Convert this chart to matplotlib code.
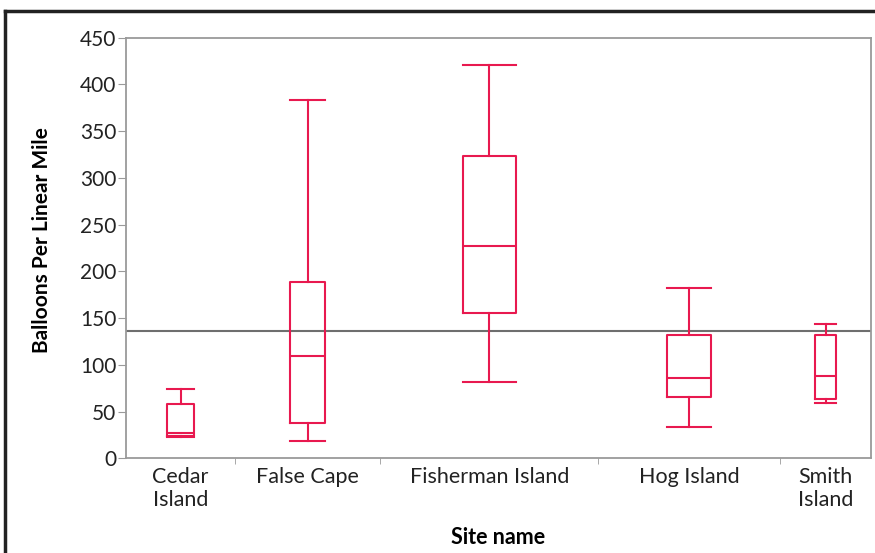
import matplotlib
matplotlib.use("Agg")
import matplotlib.pyplot as plt
from matplotlib.lines import Line2D
import numpy as np

plt.rcParams['font.family'] = ['Lato', 'DejaVu Sans']

# Sites and their box-plot summaries (balloons per linear mile)
sites = ["Cedar\nIsland", "False Cape", "Fisherman Island", "Hog Island", "Smith\nIsland"]
n_obs = [6, 8, 12, 10, 5]              # sample counts; set category widths
whisker_low = [23, 18.5, 82, 34, 59]
q1 = [24, 37.5, 155, 66, 63.5]
median = [27, 109.5, 227, 86, 88]
q3 = [58, 189, 323, 132, 132]
whisker_high = [74, 383, 421, 182, 144]
grand_mean = 136

box_color = '#e8194f'
axis_gray = '#9a9a9a'
text_color = '#222222'

fig = plt.figure(figsize=(8.75, 5.53), dpi=100)
ax = fig.add_axes([0.144, 0.1712, 0.8514, 0.7606])

edges = np.concatenate([[0], np.cumsum(n_obs)])
centers = (edges[:-1] + edges[1:]) / 2
widths = [0.24 * n for n in n_obs]

stats = []
for i in range(len(sites)):
    stats.append(dict(whislo=whisker_low[i], q1=q1[i], med=median[i],
                      q3=q3[i], whishi=whisker_high[i], fliers=[]))

lp = dict(color=box_color, linewidth=1.5)
ax.bxp(stats, positions=centers, widths=widths, capwidths=widths,
       showfliers=False, boxprops=lp, whiskerprops=lp, capprops=lp,
       medianprops=lp, manage_ticks=False)

ax.axhline(grand_mean, color='#6e6e6e', linewidth=1.5, zorder=1)

ax.set_xlim(edges[0], edges[-1])
ax.set_ylim(0, 450)
ax.set_yticks(np.arange(0, 451, 50))
ax.set_xticks(centers)
ax.set_xticklabels(sites, fontsize=15.5, color=text_color, linespacing=1.2)
ax.set_xticks(edges[1:-1], minor=True)
ax.tick_params(axis='x', which='major', length=0, pad=6)
ax.tick_params(axis='x', which='minor', length=4, color=axis_gray, direction='out')
ax.tick_params(axis='y', length=6, color=axis_gray, labelsize=15,
               labelcolor=text_color, pad=1)

for s in ax.spines.values():
    s.set_color(axis_gray)
    s.set_linewidth(1.3)

ax.set_ylabel("Balloons Per Linear Mile", fontsize=15, fontweight='bold', va='center')
ax.yaxis.set_label_coords((42 - 126) / 745, 0.518)
ax.set_xlabel("Site name", fontsize=15.5, fontweight='bold', va='center')
ax.xaxis.set_label_coords(0.5, -(537 - 458) / 420.6)

# outer frame of the figure (left and top edges)
fig.add_artist(Line2D([5 / 875, 5 / 875], [0, 1 - 11 / 553], transform=fig.transFigure,
                      color=text_color, linewidth=2.5))
fig.add_artist(Line2D([5 / 875, 1], [1 - 11 / 553, 1 - 11 / 553], transform=fig.transFigure,
                      color=text_color, linewidth=2.5))

fig.savefig("out.png", dpi=100)
